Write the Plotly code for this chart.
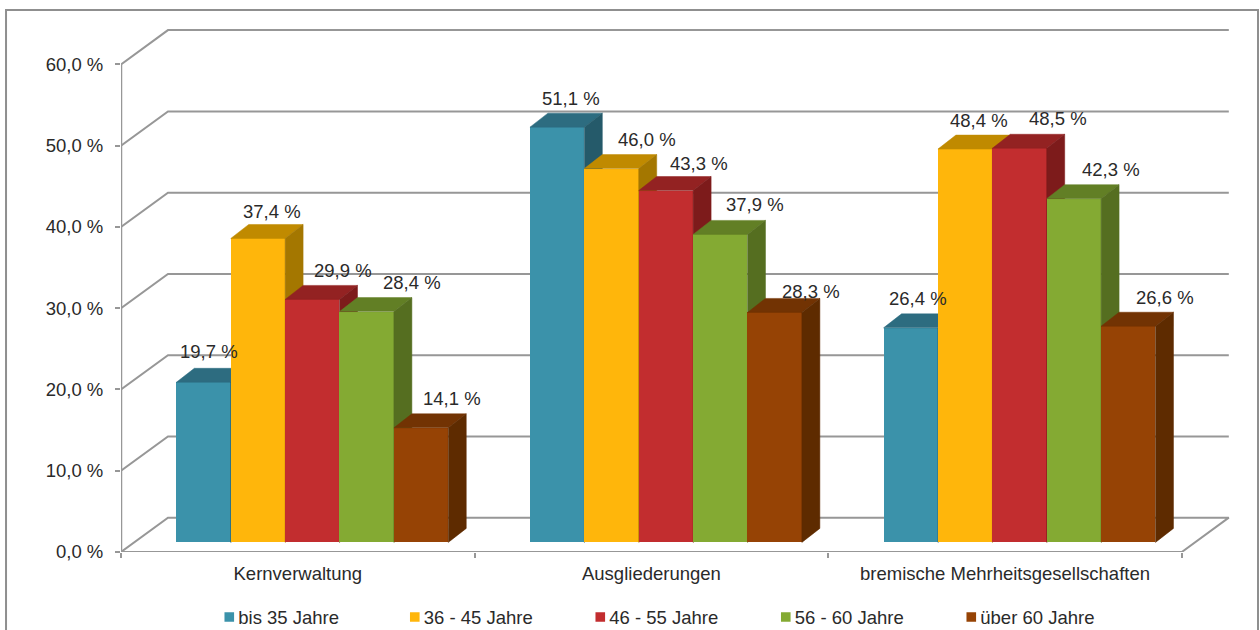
import plotly.graph_objects as go

categories = ["Kernverwaltung", "Ausgliederungen", "bremische Mehrheitsgesellschaften"]
series_names = ["bis 35 Jahre", "36 - 45 Jahre", "46 - 55 Jahre", "56 - 60 Jahre", "über 60 Jahre"]
bis_35 = [19.7, 51.1, 26.4]
j36_45 = [37.4, 46.0, 48.4]
j46_55 = [29.9, 43.3, 48.5]
j56_60 = [28.4, 37.9, 42.3]
ueber_60 = [14.1, 28.3, 26.6]
tick_values = [0, 10, 20, 30, 40, 50, 60]

all_series = [bis_35, j36_45, j46_55, j56_60, ueber_60]

# styling: (front, top, side)
face_colors = [
    ("#3B92AA", "#2D6C80", "#255A6A"),
    ("#FFB60B", "#C08A00", "#A47700"),
    ("#C22D2F", "#932222", "#7D1B1B"),
    ("#84AA33", "#627F25", "#556E20"),
    ("#964305", "#723303", "#5E2B00"),
]
# hand-placed data-label offsets in px, per series then per category
label_dx = [[5, 14, 7], [14, 35, 14], [31, 33, 38], [45, 35, 37], [31, 36, 37]]
label_dy = [[31, 29, 29], [27, 29, 29], [29, 27, 30], [29, 30, 29], [29, 21, 29]]

# geometry of the fake 3-D box
PX_X = 353.7        # px per category
PX_Y = 8.12         # px per percentage point
AXIS_L = 120.7
AXIS_B = 551.6
W, H = 1260, 630
GREY = "#979797"
TXT = "#2A2A2A"
FONT = "Liberation Sans, Arial, sans-serif"
FS = 18.5

x_max = (W - AXIS_L) / PX_X
y_max = AXIS_B / PX_Y
wall_dx, wall_dy = 47 / PX_X, 34.3 / PX_Y
bar_dx, bar_dy = 18 / PX_X, 14 / PX_Y
bar_base = 9.6 / PX_Y
bar_w = 54.4 / PX_X
group_mid = 0.541

fig = go.Figure()


def poly(xs, ys, color, yaxis):
    fig.add_trace(go.Scatter(x=xs, y=ys, mode="lines", fill="toself", fillcolor=color,
                             line=dict(color=color, width=0.5), showlegend=False,
                             hoverinfo="skip", yaxis=yaxis))


# grid: front-left edge to back wall, then along the wall
for v in tick_values[1:]:
    fig.add_trace(go.Scatter(x=[0, wall_dx, 3 + wall_dx], y=[v, v + wall_dy, v + wall_dy],
                             mode="lines", line=dict(color=GREY, width=2), showlegend=False,
                             hoverinfo="skip", cliponaxis=False))
# floor outline and axes
fig.add_trace(go.Scatter(x=[0, wall_dx, 3 + wall_dx, 3, 0], y=[0, wall_dy, wall_dy, 0, 0],
                         mode="lines", line=dict(color=GREY, width=2), showlegend=False,
                         hoverinfo="skip", cliponaxis=False))
fig.add_trace(go.Scatter(x=[0, 0], y=[0, tick_values[-1]], mode="lines",
                         line=dict(color=GREY, width=2.5), showlegend=False,
                         hoverinfo="skip", cliponaxis=False))

annotations = []
for i, (name, vals, cols) in enumerate(zip(series_names, all_series, face_colors)):
    ya = f"y{i + 2}"
    xc = [g + group_mid + (i - 2) * bar_w for g in range(len(categories))]
    fig.add_trace(go.Bar(x=xc, y=vals, base=bar_base, width=bar_w, name=name,
                         marker=dict(color=cols[0], line=dict(width=0)), yaxis=ya,
                         hovertemplate="%{y:.1f} %<extra>" + name + "</extra>"))
    for g, (c, v) in enumerate(zip(xc, vals)):
        l, r = c - bar_w / 2, c + bar_w / 2
        t = v + bar_base
        poly([l, l + bar_dx, r + bar_dx, r, l], [t, t + bar_dy, t + bar_dy, t, t], cols[1], ya)
        poly([r, r + bar_dx, r + bar_dx, r, r],
             [t, t + bar_dy, bar_base + bar_dy, bar_base, t], cols[2], ya)
        annotations.append(dict(x=c, y=t, xref="x", yref="y", showarrow=False,
                                text=f"{v:.1f} %".replace(".", ","),
                                xshift=label_dx[i][g], yshift=label_dy[i][g],
                                xanchor="center", yanchor="middle",
                                font=dict(size=FS, color=TXT, family=FONT)))

layout_axes = {}
for i in range(len(all_series)):
    layout_axes[f"yaxis{i + 2}"] = dict(overlaying="y", range=[0, y_max], visible=False, fixedrange=True)

plot_w = W - AXIS_L
plot_h = AXIS_B


def paper_x(px):
    return (px - AXIS_L) / plot_w


def paper_y(px):
    return (AXIS_B - px) / plot_h


fig.update_layout(
    width=W, height=H, autosize=False,
    margin=dict(l=AXIS_L, r=0, t=0, b=H - AXIS_B, pad=0, autoexpand=False),
    paper_bgcolor="white", plot_bgcolor="white",
    barmode="overlay", bargap=0,
    font=dict(family=FONT, color=TXT, size=FS),
    xaxis=dict(range=[0, x_max], tickmode="array",
               tickvals=[g + 0.5 for g in range(len(categories))], ticktext=categories,
               ticks="outside", ticklen=0, showgrid=False, zeroline=False, showline=False,
               tickfont=dict(size=FS, color=TXT), ticklabelstandoff=5, fixedrange=True,
               minor=dict(tickmode="array", tickvals=[0, 1, 2, 3], ticks="outside",
                          ticklen=5, tickwidth=2, tickcolor=GREY, showgrid=False)),
    yaxis=dict(range=[0, y_max], tickmode="array", tickvals=tick_values,
               ticktext=[f"{v:.1f} %".replace(".", ",") for v in tick_values],
               ticks="outside", ticklen=5, tickwidth=2, tickcolor=GREY, showgrid=False,
               zeroline=False, showline=False, tickfont=dict(size=FS, color=TXT),
               ticklabelstandoff=8, fixedrange=True),
    legend=dict(orientation="h", x=paper_x(198), y=paper_y(617), xanchor="left", yanchor="middle",
                font=dict(size=FS, color=TXT), entrywidth=140.5, entrywidthmode="pixels",
                bgcolor="rgba(0,0,0,0)", itemclick=False, itemdoubleclick=False,
                traceorder="normal"),
    annotations=annotations,
    shapes=[dict(type="rect", xref="paper", yref="paper",
                 x0=paper_x(5.7), x1=paper_x(1258), y0=paper_y(650), y1=paper_y(10),
                 line=dict(color="#8F8F8F", width=2), fillcolor="rgba(0,0,0,0)", layer="below")],
    showlegend=True,
    **layout_axes,
)

# page margin off; legend swatches sit tight against their text as in the reference
post = """
document.body.style.margin = '0';
document.querySelectorAll('.legendsymbols').forEach(function (e) {
  e.setAttribute('transform', 'translate(15,0) scale(0.8)');
});
"""
fig.write_html("out.html", config={"displayModeBar": False}, post_script=post)
